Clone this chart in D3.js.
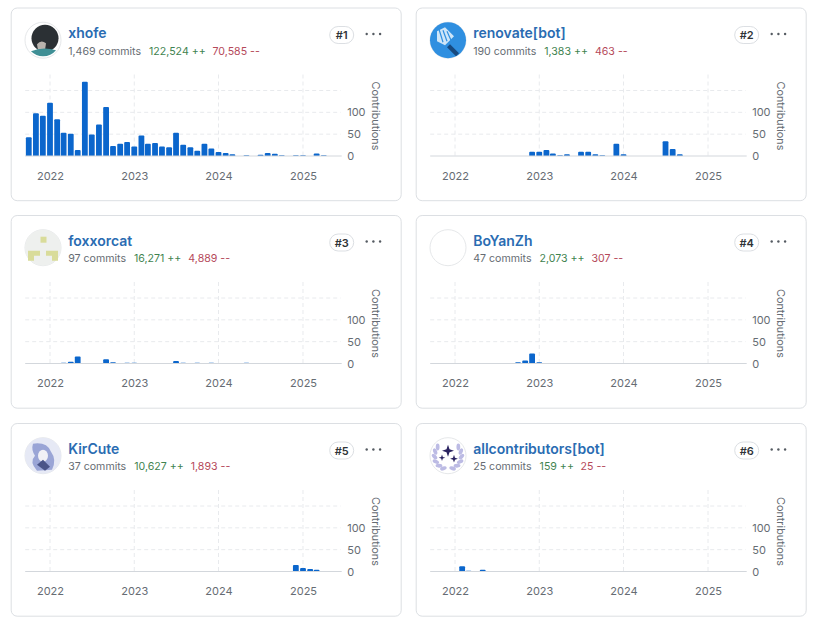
<!DOCTYPE html>
<html>
<head>
<meta charset="utf-8">
<script src="https://cdn.jsdelivr.net/npm/d3@7/dist/d3.min.js"></script>
<style>
  html, body { margin: 0; padding: 0; background: #fff; }
  svg { display: block; }
  text { font-family: Inter, "Noto Sans", sans-serif; }
</style>
</head>
<body>
<div id="chart-container"></div>
<script>
// contributors, top to bottom, left to right
const names = ["xhofe", "renovate[bot]", "foxxorcat", "BoYanZh", "KirCute", "allcontributors[bot]"];
const commits = ["1,469", "190", "97", "47", "37", "25"];
const additions = ["122,524", "1,383", "16,271", "2,073", "10,627", "159"];
const deletions = ["70,585", "463", "4,889", "307", "1,893", "25"];

// first bar of each series is the month next to it, one value per month
const xhofeStart = "2021-10";
const xhofeValues = [43, 98, 92, 122, 84, 53, 51, 14, 170, 49, 72, 112, 23, 28, 32, 22, 47, 28, 30, 22, 20, 53, 26, 20, 12, 28, 17, 9, 7, 4, 0, 2, 0, 3, 7, 5, 2, 0, 2, 2, 0, 6, 2];
const renovateStart = "2022-12";
const renovateValues = [10, 10, 14, 6, 2, 4, 0, 10, 10, 4, 2, 0, 28, 4, 0, 0, 0, 0, 0, 34, 16, 4];
const foxxorcatStart = "2022-03";
const foxxorcatValues = [2, 4, 16, 0, 0, 0, 10, 3, 0, 2, 2, 0, 0, 0, 0, 0, 6, 2, 0, 2, 0, 2, 0, 0, 0, 0, 2];
const boyanStart = "2022-10";
const boyanValues = [3, 7, 23, 3];
const kircuteStart = "2024-12";
const kircuteValues = [15, 8, 6, 4];
const allcontribStart = "2022-02";
const allcontribValues = [12, 2, 0, 4];

const seriesStarts = [xhofeStart, renovateStart, foxxorcatStart, boyanStart, kircuteStart, allcontribStart];
const seriesValues = [xhofeValues, renovateValues, foxxorcatValues, boyanValues, kircuteValues, allcontribValues];

const yearTicks = [2022, 2023, 2024, 2025];
const valueTicks = [0, 50, 100];
const gridValues = [50, 100, 150];

const svgWidth = 821;
const svgHeight = 628;
const cardLefts = [10.7, 415.7];
const cardTops = [7.5, 215, 423];
const cardWidth = 390;
const cardHeight = 192.7;

const svg = d3
  .select("#chart-container")
  .append("svg")
  .attr("width", svgWidth)
  .attr("height", svgHeight);

const parseMonth = d3.timeParse("%Y-%m");

// local x/y inside a card
const xScale = d3
  .scaleTime()
  .domain([new Date(2022, 0, 1), new Date(2025, 0, 1)])
  .range([39.3, 292.3]);
const yScale = d3.scaleLinear().domain([0, 150]).range([148.5, 83]);

function drawCard(i) {
  const col = i % 2;
  const row = Math.floor(i / 2);
  const card = svg
    .append("g")
    .attr("transform", `translate(${cardLefts[col]},${cardTops[row]})`);

  card
    .append("rect")
    .attr("x", 0.5)
    .attr("y", 0.5)
    .attr("width", cardWidth)
    .attr("height", cardHeight)
    .attr("rx", 6)
    .attr("fill", "#fff")
    .attr("stroke", "#dcdfe3");

  drawAvatar(card.append("g").attr("transform", "translate(32.3,32.7)"), i);

  // header text
  card
    .append("text")
    .attr("x", 57.5)
    .attr("y", 30.5)
    .attr("font-size", 14)
    .attr("font-weight", 600)
    .attr("fill", "#2a6cb2")
    .text(names[i]);

  const sub = card
    .append("text")
    .attr("x", 57.5)
    .attr("y", 47)
    .attr("font-size", 10.6);
  sub.append("tspan").attr("fill", "#666c73").text(commits[i] + " commits");
  sub.append("tspan").attr("dx", 8).attr("fill", "#3f8350").text(additions[i] + " ++");
  sub.append("tspan").attr("dx", 7).attr("fill", "#b5495a").text(deletions[i] + " --");

  // rank pill and menu dots
  const pill = card.append("g").attr("transform", "translate(331,27.5)");
  pill
    .append("rect")
    .attr("x", -12)
    .attr("y", -8.5)
    .attr("width", 24)
    .attr("height", 17)
    .attr("rx", 8.5)
    .attr("fill", "#fff")
    .attr("stroke", "#dcdfe3");
  pill
    .append("text")
    .attr("text-anchor", "middle")
    .attr("dy", 4)
    .attr("font-size", 11)
    .attr("font-weight", 600)
    .attr("fill", "#2f3337")
    .text("#" + (i + 1));
  card
    .selectAll(".menu-dot")
    .data([0, 1, 2])
    .enter()
    .append("circle")
    .attr("class", "menu-dot")
    .attr("cx", (d) => 356 + d * 6.7)
    .attr("cy", 26.5)
    .attr("r", 1.2)
    .attr("fill", "#555b62");

  // grid
  card
    .selectAll(".grid-h")
    .data(gridValues)
    .enter()
    .append("line")
    .attr("class", "grid-h")
    .attr("x1", 14.5)
    .attr("x2", 330)
    .attr("y1", (d) => yScale(d))
    .attr("y2", (d) => yScale(d))
    .attr("stroke", "#e8eaed")
    .attr("stroke-dasharray", "4 3");
  card
    .selectAll(".grid-v")
    .data(yearTicks)
    .enter()
    .append("line")
    .attr("class", "grid-v")
    .attr("x1", (d) => xScale(new Date(d, 0, 1)))
    .attr("x2", (d) => xScale(new Date(d, 0, 1)))
    .attr("y1", 67)
    .attr("y2", yScale(0))
    .attr("stroke", "#e8eaed")
    .attr("stroke-dasharray", "4 3");

  // bars
  const start = parseMonth(seriesStarts[i]);
  const bars = seriesValues[i]
    .map((v, k) => ({ date: d3.timeMonth.offset(start, k), value: v }))
    .filter((d) => d.value > 0);
  const halfBar = 2.9;
  card
    .selectAll(".bar")
    .data(bars)
    .enter()
    .append("path")
    .attr("class", "bar")
    .attr("fill", "#0b66cc")
    .attr("d", (d) => {
      const cx = xScale(d.date);
      const top = yScale(d.value);
      const base = yScale(0);
      const r = Math.min(1, base - top);
      return `M${cx - halfBar},${base}V${top + r}Q${cx - halfBar},${top} ${cx - halfBar + r},${top}H${cx + halfBar - r}Q${cx + halfBar},${top} ${cx + halfBar},${top + r}V${base}Z`;
    });

  card
    .append("line")
    .attr("x1", 14.5)
    .attr("x2", 331)
    .attr("y1", yScale(0))
    .attr("y2", yScale(0))
    .attr("stroke", "#d3d7dc");

  // axes
  const xAxis = d3
    .axisBottom(xScale)
    .tickValues(yearTicks.map((y) => new Date(y, 0, 1)))
    .tickFormat(d3.timeFormat("%Y"))
    .tickSize(0)
    .tickPadding(16);
  const xg = card.append("g").attr("transform", `translate(0,${yScale(0)})`).call(xAxis);
  xg.select(".domain").remove();
  xg.selectAll("text")
    .attr("font-size", 11)
    .attr("font-family", "Inter")
    .attr("fill", "#666c73");

  const yAxis = d3
    .axisRight(yScale)
    .tickValues(valueTicks)
    .tickSize(0)
    .tickPadding(0);
  const yg = card.append("g").attr("transform", "translate(336.5,0)").call(yAxis);
  yg.select(".domain").remove();
  yg.selectAll("text")
    .attr("font-size", 11)
    .attr("font-family", "Inter")
    .attr("fill", "#666c73");

  card
    .append("text")
    .attr("transform", "translate(361.5,108.5) rotate(90)")
    .attr("text-anchor", "middle")
    .attr("font-size", 10.8)
    .attr("fill", "#666c73")
    .text("Contributions");
}

// small hand drawn stand-ins for the profile pictures
function drawAvatar(g, i) {
  g.append("circle").attr("r", 18).attr("fill", "#fff").attr("stroke", "#e6e8ea");
  if (i === 0) {
    g.append("circle").attr("cx", 2).attr("cy", -2).attr("r", 13.5).attr("fill", "#2b3034");
    g.append("path").attr("d", "M-6,4Q-2,-1 3,3L2,10L-5,10Z").attr("fill", "#b9b3ad");
    g.append("path").attr("d", "M-12,11Q0,6 13,10Q8,16 0,16Q-7,16 -12,11Z").attr("fill", "#3f8f95");
  } else if (i === 1) {
    g.append("circle").attr("r", 18).attr("fill", "#2f8fe0");
    g.append("path").attr("d", "M-11,-9L-3,-13L6,-4L-3,5L-11,1Z").attr("fill", "#cfe6f8");
    d3.range(3).forEach((k) => {
      g.append("line")
        .attr("x1", -9 + k * 4)
        .attr("y1", -11 + k * 1)
        .attr("x2", -5 + k * 4)
        .attr("y2", 2 + k * -1)
        .attr("stroke", "#2f8fe0")
        .attr("stroke-width", 1.2);
    });
    g.append("path").attr("d", "M2,4L11,13L8,16L-1,7Z").attr("fill", "#17497f");
  } else if (i === 2) {
    g.append("circle").attr("r", 18).attr("fill", "#eef0ee");
    g.append("rect").attr("x", -2.5).attr("y", -11).attr("width", 6).attr("height", 6).attr("fill", "#d9dc9a");
    g.append("path").attr("d", "M-15,3H-3V8H-9V13H-15Z").attr("fill", "#d9dc9a");
    g.append("path").attr("d", "M3,3H15V13H9V8H3Z").attr("fill", "#d9dc9a");
  } else if (i === 4) {
    g.append("circle").attr("r", 18).attr("fill", "#e6e9f5");
    g.append("path").attr("d", "M-10,-12Q4,-14 8,-4Q14,4 9,14L-6,15Q-14,6 -8,0Q-12,-6 -10,-12Z").attr("fill", "#9aa5d6");
    g.append("ellipse").attr("cx", 0).attr("cy", 0).attr("rx", 5).attr("ry", 6).attr("fill", "#f1f1f6");
    g.append("path").attr("d", "M-6,9L0,4L7,11L2,15Z").attr("fill", "#4a5488");
  } else if (i === 5) {
    // laurel leaves either side, three small stars inside
    d3.range(6).forEach((k) => {
      const angle = 50 + k * 22;
      [1, -1].forEach((side) => {
        const a = (angle * Math.PI) / 180;
        const px = side * 13.5 * Math.sin(a);
        const py = -13.5 * Math.cos(a);
        g.append("ellipse")
          .attr("cx", px)
          .attr("cy", py)
          .attr("rx", 3.4)
          .attr("ry", 1.9)
          .attr("transform", `rotate(${side * (angle + 40)} ${px} ${py})`)
          .attr("fill", "#bcbbe4");
      });
    });
    [[0, -5, 1], [-6, 2, 0.55], [6, 3, 0.65]].forEach((s) => {
      g.append("path")
        .attr("transform", `translate(${s[0]},${s[1]}) scale(${s[2]})`)
        .attr("d", "M0,-6L1.5,-1.5L6,0L1.5,1.5L0,6L-1.5,1.5L-6,0L-1.5,-1.5Z")
        .attr("fill", "#2a2360");
    });
  }
}

names.forEach((n, i) => drawCard(i));
</script>
</body>
</html>
